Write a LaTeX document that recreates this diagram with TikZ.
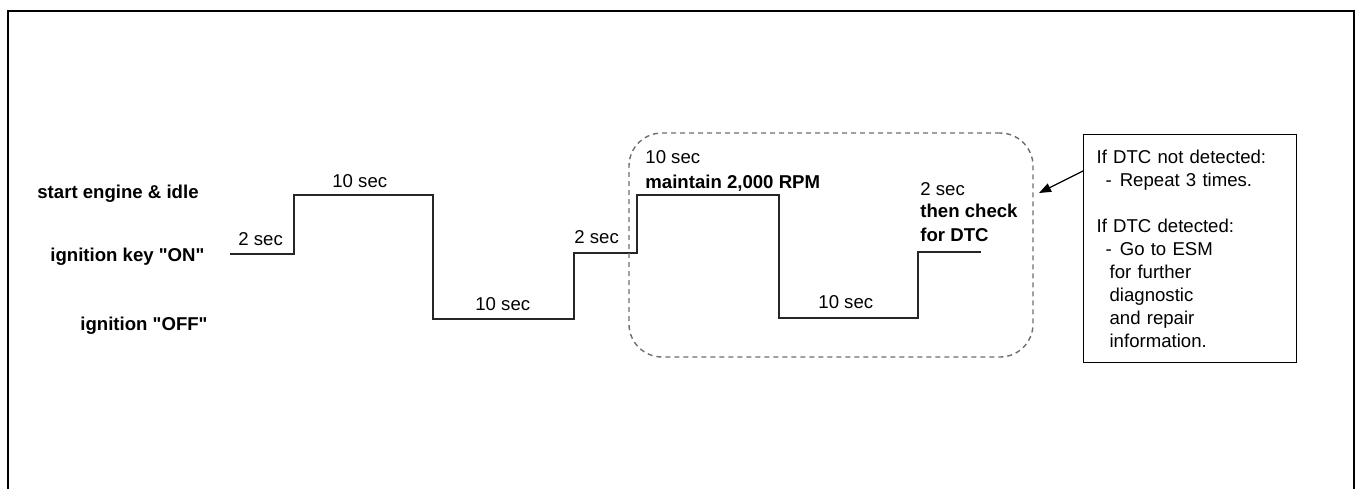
\documentclass[tikz,border=0pt]{standalone}
\usepackage{fontspec}
\setmainfont{Liberation Sans}[Ligatures=TeXOff]
\usetikzlibrary{arrows.meta}
\definecolor{dashgray}{RGB}{110,110,110}
\tikzset{
  lab/.style={font=\fontsize{9.3}{11.5}\selectfont,inner sep=0pt,anchor=base west},
  blab/.style={lab,font=\fontsize{9.3}{11.5}\selectfont\bfseries},
  wave/.style={line width=0.8pt,black!85},
  frame/.style={line width=1.25pt},
  window/.style={draw=dashgray,line width=0.7pt,dash pattern=on 2.5pt off 2pt,rounded corners=16.5pt,minimum width=202pt,minimum height=112pt},
  infobox/.style={draw,line width=0.6pt,font=\fontsize{9.3}{11.5}\selectfont,align=left,minimum width=106.5pt,minimum height=114pt,text width=93.5pt,inner xsep=6.5pt,anchor=north west},
  pointer/.style={line width=0.6pt,-{Triangle[length=6pt,width=4.5pt]}}
}
\begin{document}
\begin{tikzpicture}[x=0.5pt,y=-0.5pt]
    \useasboundingbox (0,0) rectangle (1359,489);
    \draw[frame] (8,489) -- (8,11) -- (1354,11) -- (1354,489);
    % levels
    \node[blab] (idle) at (37,198) {start engine \& idle};
    \node[blab] (on) at (50,261) {ignition key "ON"};
    \node[blab] (off) at (80,330) {ignition "OFF"};
    % sequence
    \draw[wave] (230,254) -| (294,195) -| (433,319) -| (574,253) -| (637,195) -| (779,318) -| (918,252) -- (981,252);
    \node[lab] (t1) at (238,245) {2 sec};
    \node[lab] (t2) at (332,187) {10 sec};
    \node[lab] (t3) at (475,310) {10 sec};
    \node[lab] (t4) at (574,243) {2 sec};
    \node[lab] (t5) at (645,163) {10 sec};
    \node[blab] (rpm) at (645,188) {maintain 2,000 RPM};
    \node[lab] (t6) at (818,308) {10 sec};
    \node[lab] (t7) at (920,195) {2 sec};
    \node[blab] (chk) at (920,217) {then check};
    \node[blab] (dtc) at (920,241) {for DTC};
    % repeated part and note
    \node[window] (win) at (831,245) {};
    \node[infobox] (info) at (1083,134) {If DTC not detected:\\
      \hspace*{4.5pt}-\hspace{4pt}Repeat 3 times.\\[11.5pt]
      If DTC detected:\\
      \hspace*{4.5pt}-\hspace{4pt}Go to ESM\\
      \hspace*{6.5pt}for further\\
      \hspace*{6.5pt}diagnostic\\
      \hspace*{6.5pt}and repair\\
      \hspace*{6.5pt}information.};
    \coordinate (tip) at (1039,193);
    \draw[pointer] ([yshift=-18.5pt]info.north west) -- (tip);
\end{tikzpicture}
\end{document}
